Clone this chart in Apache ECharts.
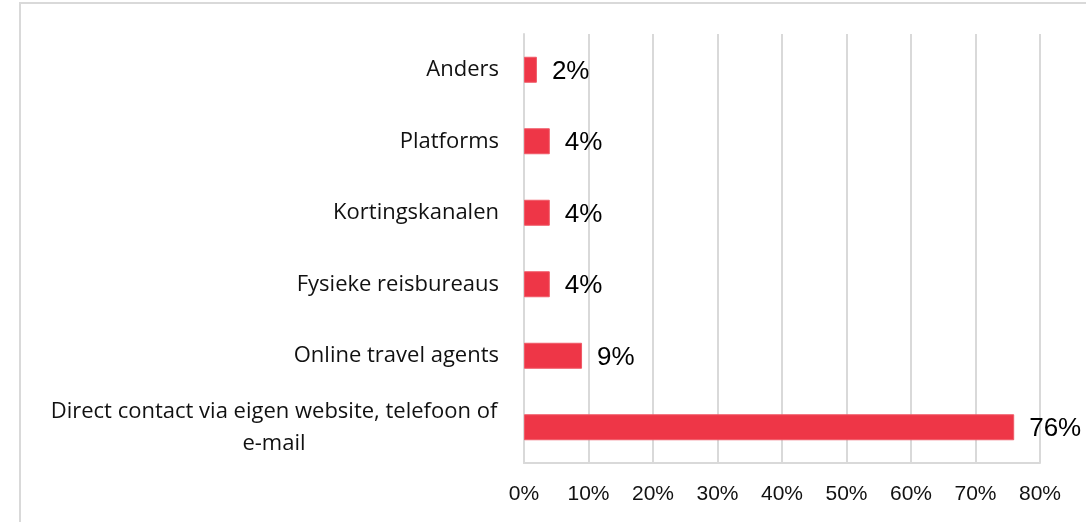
<!DOCTYPE html>
<html>
<head>
<meta charset="UTF-8">
<title>Boekingskanalen</title>
<script src="https://cdn.jsdelivr.net/npm/echarts@6/dist/echarts.min.js"></script>
<style>
    html, body { margin: 0; padding: 0; background: #fff; }
    #main { width: 1086px; height: 522px; }
</style>
</head>
<body>
<div id="main"></div>
<script>
    // categories from top to bottom
    var categories = ['Anders', 'Platforms', 'Kortingskanalen', 'Fysieke reisbureaus', 'Online travel agents',
        'Direct contact via eigen website, telefoon of e-mail'];
    var values = [2, 4, 4, 4, 9, 76];
    var xTicks = [0, 10, 20, 30, 40, 50, 60, 70, 80];

    // lange labels over twee regels, gecentreerd zoals in Excel
    function wrap(v) {
        if (v.length < 40) return v;
        var words = v.split(' '), lines = [], cur = '';
        words.forEach(function (w) {
            if ((cur + ' ' + w).trim().length > 46) { lines.push(cur); cur = w; }
            else cur = (cur + ' ' + w).trim();
        });
        lines.push(cur);
        return lines.map(function (l) { return '{w|' + l + '}'; }).join('\n');
    }

    var chart = echarts.init(document.getElementById('main'));
    var option = {
        animation: false,
        graphic: [{
            type: 'rect',
            shape: { x: 20, y: 3, width: 1200, height: 700 },
            style: { fill: 'none', stroke: '#d9d9d9', lineWidth: 2 },
            silent: true
        }],
        grid: { left: 524, right: 46, top: 34, bottom: 59, containLabel: false },
        xAxis: {
            type: 'value',
            min: xTicks[0],
            max: xTicks[xTicks.length - 1],
            interval: 10,
            axisLine: { show: true, lineStyle: { color: '#d9d9d9', width: 2 } },
            axisTick: { show: false },
            splitLine: { lineStyle: { color: '#d9d9d9', width: 2 } },
            axisLabel: {
                formatter: '{value}%',
                fontFamily: 'Liberation Sans, Arial',
                fontSize: 21,
                color: '#111',
                margin: 21
            }
        },
        yAxis: {
            type: 'category',
            inverse: true,
            data: categories,
            axisLine: { show: true, lineStyle: { color: '#d9d9d9', width: 2 } },
            axisTick: { show: false },
            axisLabel: {
                formatter: wrap,
                fontFamily: 'Open Sans, Noto Sans',
                fontSize: 22,
                color: '#111',
                margin: 25,
                lineHeight: 32,
                rich: {
                    w: { width: 450, align: 'center', fontSize: 22, fontFamily: 'Open Sans, Noto Sans', color: '#111', lineHeight: 32 }
                }
            }
        },
        series: [{
            type: 'bar',
            data: values,
            barWidth: 26,
            itemStyle: { color: '#ee3647', borderColor: '#f05a67', borderWidth: 1 },
            label: {
                show: true,
                position: 'right',
                distance: 15,
                offset: [0, 2],
                formatter: '{c}%',
                fontFamily: 'Liberation Sans, Arial',
                fontSize: 26,
                color: '#000'
            }
        }]
    };
    chart.setOption(option);
</script>
</body>
</html>
